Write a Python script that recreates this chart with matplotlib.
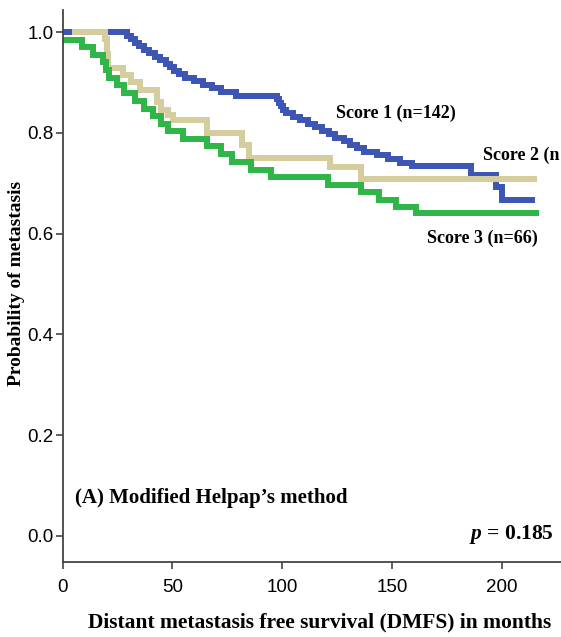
import matplotlib
matplotlib.use("Agg")
import matplotlib.pyplot as plt

# Kaplan-Meier step curves: event times (months) and probability after each step
score1_t = [0, 29.5, 31, 33, 35, 37, 39.5, 42, 44.5, 47, 49, 51, 53,
            56, 60, 64, 68, 72, 79,
            97.5, 98.5, 99.5, 100.5, 102,
            105, 108, 112, 115, 118, 121.5,
            124, 128, 131, 134, 137.5,
            143, 148, 153.5, 159,
            186, 197.5, 200]
score1_s = [1.0, 0.993, 0.986, 0.979, 0.972, 0.965, 0.958, 0.951, 0.944, 0.937, 0.930, 0.923, 0.916,
            0.909, 0.902, 0.895, 0.888, 0.881, 0.874,
            0.867, 0.860, 0.853, 0.846, 0.839,
            0.832, 0.825, 0.818, 0.811, 0.804, 0.797,
            0.790, 0.783, 0.776, 0.769, 0.762,
            0.755, 0.748, 0.741, 0.734,
            0.716, 0.692, 0.667]
score1_end = 215

score2_t = [4.5, 19.5, 20.2, 20.8, 27.5, 31, 35.5, 43, 45, 48, 50.5, 66, 81.6, 85, 122, 136]
score2_s = [1.0, 0.986, 0.957, 0.929, 0.915, 0.900, 0.885, 0.862, 0.845, 0.835, 0.825, 0.800,
            0.776, 0.750, 0.733, 0.708]
score2_end = 216

score3_t = [0, 9, 14, 18.4, 20, 21, 25, 28, 33, 37, 41, 45, 48, 55, 66, 72, 77, 86, 95,
            121, 136, 144, 152, 161]
score3_s = [0.985, 0.970, 0.955, 0.940, 0.924, 0.909, 0.894, 0.879, 0.864, 0.848, 0.833, 0.818,
            0.803, 0.788, 0.773, 0.758, 0.742, 0.727, 0.712, 0.697, 0.682, 0.667, 0.652, 0.641]
score3_end = 217

x_ticks = [0, 50, 100, 150, 200]
y_ticks = [0.0, 0.2, 0.4, 0.6, 0.8, 1.0]

labels = ["Score 1 (n=142)", "Score 2 (n", "Score 3 (n=66)"]
colors = ["#3D56B4", "#D6CD9E", "#2FB548"]

plt.rcParams["mathtext.fontset"] = "custom"
plt.rcParams["mathtext.it"] = "Liberation Serif:italic:bold"
plt.rcParams["mathtext.rm"] = "Liberation Serif:bold"

fig = plt.figure(figsize=(5.61, 6.37), dpi=100)
ax = fig.add_axes([62.5 / 561, 1 - 562 / 637, 1 - 62.5 / 561, (562 - 10) / 637])

lw = 4.3
for t, s, end, c in [(score1_t, score1_s, score1_end, colors[0]),
                     (score2_t, score2_s, score2_end, colors[1]),
                     (score3_t, score3_s, score3_end, colors[2])]:
    ax.step(list(t) + [end], list(s) + [s[-1]], where="post", color=c, lw=lw,
            solid_joinstyle="miter", solid_capstyle="butt")

ax.set_xlim(0, 227)
ax.set_ylim(-0.0516, 1.0437)
ax.set_xticks(x_ticks)
ax.set_yticks(y_ticks)
ax.set_xticklabels([str(v) for v in x_ticks], family="Liberation Sans", fontsize=13.5)
ax.set_yticklabels([f"{v:.1f}" for v in y_ticks], family="Liberation Sans", fontsize=13.5)
ax.tick_params(direction="out", length=5, width=1.2, color="#444444")
ax.tick_params(axis="x", pad=7)
ax.tick_params(axis="y", pad=1.5)

for side in ("top", "right"):
    ax.spines[side].set_visible(False)
for side in ("left", "bottom"):
    ax.spines[side].set_color("#444444")
    ax.spines[side].set_linewidth(1.3)

serif = "Liberation Serif"
ax.text(151.8, 0.839, labels[0], ha="center", va="center", family=serif,
        fontweight="bold", fontsize=13)
ax.text(191.6, 0.756, labels[1], ha="left", va="center", family=serif,
        fontweight="bold", fontsize=13, clip_on=False)
ax.text(191.4, 0.591, labels[2], ha="center", va="center", family=serif,
        fontweight="bold", fontsize=13)
ax.text(5.7, 0.075, "(A) Modified Helpap\u2019s method", ha="left", va="center",
        family=serif, fontweight="bold", fontsize=15)
ax.text(223.9, 0.003, r"$p$ = 0.185", ha="right", va="center", family=serif,
        fontweight="bold", fontsize=15.5)

fig.text(320 / 561, 1 - 622 / 637, "Distant metastasis free survival (DMFS) in months",
         ha="center", va="center", family=serif, fontweight="bold", fontsize=15.5)
fig.text(17 / 561, 1 - 283 / 637, "Probability of metastasis", rotation=90,
         ha="center", va="center", family=serif, fontweight="bold", fontsize=14)

fig.savefig("out.png", dpi=100)
